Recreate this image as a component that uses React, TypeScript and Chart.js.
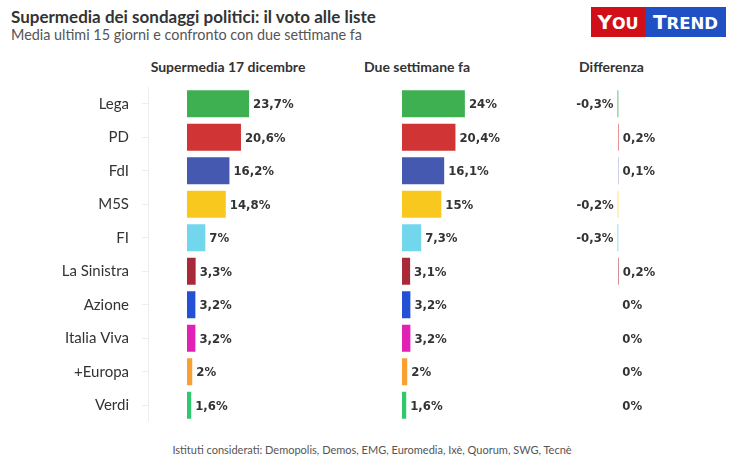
import React, { useEffect, useRef } from 'react';
import { Chart, registerables } from 'chart.js';

Chart.register(...registerables);

const categories = ['Lega', 'PD', 'FdI', 'M5S', 'FI', 'La Sinistra', 'Azione', 'Italia Viva', '+Europa', 'Verdi'];
const current = [23.7, 20.6, 16.2, 14.8, 7, 3.3, 3.2, 3.2, 2, 1.6];
const previous = [24, 20.4, 16.1, 15, 7.3, 3.1, 3.2, 3.2, 2, 1.6];
const difference = [-0.3, 0.2, 0.1, -0.2, -0.3, 0.2, 0, 0, 0, 0];
const colors = ['#3fb052', '#d03434', '#4559b1', '#f8c81e', '#72d6ec', '#a82a3a', '#2251d6', '#e021b4', '#f8a032', '#2fc86e'];

const headers = ['Supermedia 17 dicembre', 'Due settimane fa', 'Differenza'];
const titleText = 'Supermedia dei sondaggi politici: il voto alle liste';
const subtitleText = 'Media ultimi 15 giorni e confronto con due settimane fa';
const footerText = 'Istituti considerati: Demopolis, Demos, EMG, Euromedia, Ixè, Quorum, SWG, Tecnè';

const PX_PER_UNIT = 2.62;
const CHART_TOP = 87;
const CHART_HEIGHT = 335;

const fmt = (v: number) => String(v).replace('.', ',') + '%';

const valueLabels = {
  id: 'valueLabels',
  afterDatasetsDraw(chart: any) {
    const ctx = chart.ctx;
    const meta = chart.getDatasetMeta(0);
    const data = chart.data.datasets[0].data as number[];
    ctx.save();
    ctx.font = 'bold 13px "DejaVu Sans Condensed", "DejaVu Sans", sans-serif';
    ctx.fillStyle = '#333333';
    ctx.textBaseline = 'middle';
    meta.data.forEach((el: any, i: number) => {
      const v = data[i];
      const { x, y } = el.getProps(['x', 'y'], true);
      if (v < 0) {
        ctx.textAlign = 'right';
        ctx.fillText(fmt(v), x - 4, y + 1);
      } else {
        ctx.textAlign = 'left';
        ctx.fillText(fmt(v), x + 4, y + 1);
      }
    });
    ctx.restore();
  },
};

type PanelProps = {
  left: number;
  width: number;
  zeroX: number;
  values: number[];
  showAxis: boolean;
  axisWidth?: number;
};

function BarPanel({ left, width, zeroX, values, showAxis, axisWidth = 0 }: PanelProps) {
  const ref = useRef<HTMLCanvasElement | null>(null);
  useEffect(() => {
    if (!ref.current) return;
    const areaLeft = showAxis ? axisWidth : 0;
    const areaWidth = width - areaLeft;
    const zeroInArea = zeroX - left - areaLeft;
    const min = -zeroInArea / PX_PER_UNIT;
    const max = (areaWidth - zeroInArea) / PX_PER_UNIT;
    const chart = new Chart(ref.current, {
      type: 'bar',
      data: {
        labels: categories,
        datasets: [
          {
            data: values,
            backgroundColor: colors,
            borderWidth: 0,
            barPercentage: 0.806,
            categoryPercentage: 1,
          },
        ],
      },
      options: {
        indexAxis: 'y',
        animation: false,
        responsive: false,
        maintainAspectRatio: false,
        layout: { padding: 0 },
        plugins: {
          legend: { display: false },
          tooltip: { enabled: false },
          title: { display: false },
        },
        scales: {
          x: { display: false, min, max },
          y: {
            display: showAxis,
            afterFit: (s: any) => {
              s.width = axisWidth;
              s.paddingTop = 0;
              s.paddingBottom = 0;
            },
            grid: {
              drawOnChartArea: false,
              drawTicks: true,
              tickLength: 6,
              offset: false,
              color: '#eeeeee',
            },
            border: { display: true, color: '#eeeeee' },
            ticks: {
              padding: 13,
              color: '#333333',
              font: { family: 'Lato', size: 15 },
            },
          },
        },
      },
      plugins: [valueLabels],
    } as any);
    return () => chart.destroy();
  }, []);
  return (
    <canvas
      ref={ref}
      width={width}
      height={CHART_HEIGHT}
      style={{ position: 'absolute', left, top: CHART_TOP, width, height: CHART_HEIGHT }}
    />
  );
}

export default function App() {
  const headerStyle: React.CSSProperties = {
    position: 'absolute',
    top: 60,
    fontFamily: 'Lato, sans-serif',
    fontWeight: 'bold',
    fontSize: 14,
    lineHeight: '14px',
    color: '#333',
    whiteSpace: 'nowrap',
    transform: 'translateX(-50%)',
  };
  return (
    <div style={{ position: 'absolute', left: 0, top: 0, width: 740, height: 467, background: '#fff', overflow: 'hidden' }}>
      <div
        style={{
          position: 'absolute',
          left: 11,
          top: 7.5,
          fontFamily: 'Lato, sans-serif',
          fontWeight: 'bold',
          fontSize: 17,
          lineHeight: '17px',
          color: '#333',
          whiteSpace: 'nowrap',
        }}
      >
        {titleText}
      </div>
      <div
        style={{
          position: 'absolute',
          left: 11,
          top: 27.5,
          fontFamily: 'Lato, sans-serif',
          fontSize: 14.4,
          lineHeight: '14px',
          color: '#555',
          whiteSpace: 'nowrap',
        }}
      >
        {subtitleText}
      </div>
      <div
        style={{
          position: 'absolute',
          left: 591,
          top: 7,
          height: 30,
          display: 'flex',
          fontFamily: '"DejaVu Sans", sans-serif',
          fontWeight: 'bold',
          color: '#fff',
        }}
      >
        <div style={{ background: '#d00f18', width: 54, display: 'flex', alignItems: 'center', justifyContent: 'center' }}>
          <span style={{ lineHeight: 1 }}>
            <span style={{ fontSize: 20 }}>Y</span>
            <span style={{ fontSize: 16 }}>OU</span>
          </span>
        </div>
        <div style={{ background: '#1f50c4', width: 81, display: 'flex', alignItems: 'center', justifyContent: 'center' }}>
          <span style={{ lineHeight: 1 }}>
            <span style={{ fontSize: 20 }}>T</span>
            <span style={{ fontSize: 16.5 }}>REND</span>
          </span>
        </div>
      </div>
      <div style={{ ...headerStyle, left: 228 }}>{headers[0]}</div>
      <div style={{ ...headerStyle, left: 417 }}>{headers[1]}</div>
      <div style={{ ...headerStyle, left: 611.5 }}>{headers[2]}</div>

      <BarPanel left={0} width={360} zeroX={187} values={current} showAxis={true} axisWidth={148} />
      <BarPanel left={360} width={200} zeroX={402} values={previous} showAxis={false} />
      <BarPanel left={560} width={180} zeroX={618.3} values={difference} showAxis={false} />

      <div
        style={{
          position: 'absolute',
          left: 372,
          top: 443.5,
          transform: 'translateX(-50%)',
          fontFamily: 'Lato, sans-serif',
          fontSize: 11,
          lineHeight: '11px',
          color: '#555',
          whiteSpace: 'nowrap',
        }}
      >
        {footerText}
      </div>
    </div>
  );
}
